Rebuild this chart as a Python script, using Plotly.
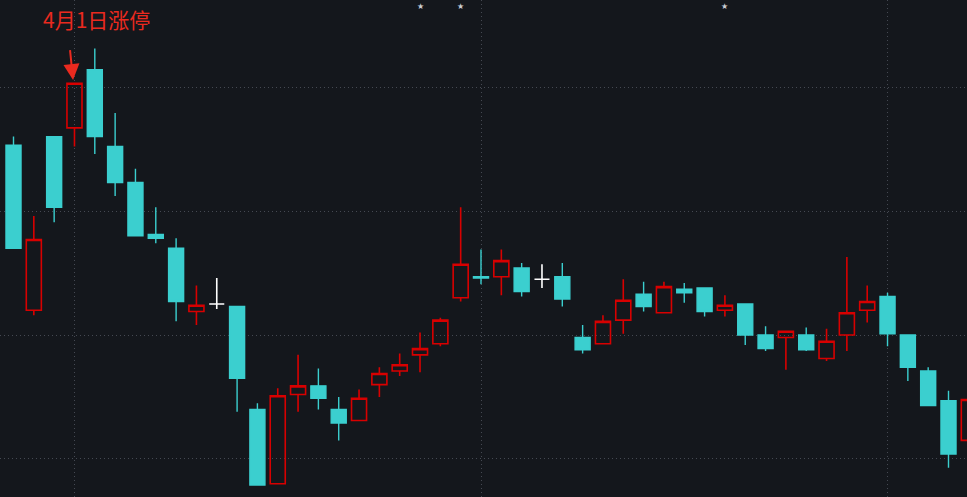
import plotly.graph_objects as go

# Daily candles (index = trading day), prices
days = list(range(48))
opens = [10.53, 9.20, 10.60, 10.67, 11.14, 10.52, 10.23, 9.81, 9.70, 9.19,
         9.25, 9.23, 8.40, 7.80, 8.52, 8.59, 8.40, 8.31, 8.60, 8.71,
         8.84, 8.93, 9.30, 9.47, 9.47, 9.54, 9.45, 9.47, 8.98, 8.93,
         9.12, 9.33, 9.18, 9.37, 9.38, 9.20, 9.25, 9.00, 8.98, 9.00,
         8.81, 9.00, 9.20, 9.31, 9.00, 8.71, 8.47, 8.15]
highs = [10.60, 9.96, 10.60, 11.03, 11.31, 10.79, 10.34, 10.03, 9.78, 9.40,
         9.46, 9.23, 8.45, 8.57, 8.84, 8.73, 8.50, 8.56, 8.74, 8.85,
         9.02, 9.14, 10.03, 9.69, 9.69, 9.58, 9.57, 9.58, 9.08, 9.16,
         9.45, 9.43, 9.43, 9.42, 9.38, 9.32, 9.25, 9.07, 9.03, 9.06,
         9.05, 9.63, 9.40, 9.34, 9.00, 8.74, 8.55, 8.48]
lows = [9.70, 9.16, 9.91, 10.52, 10.46, 10.12, 9.80, 9.74, 9.11, 9.08,
        9.21, 8.38, 7.79, 7.80, 8.38, 8.40, 8.15, 8.31, 8.50, 8.67,
        8.70, 8.91, 9.27, 9.41, 9.32, 9.31, 9.38, 9.23, 8.85, 8.93,
        9.01, 9.19, 9.18, 9.26, 9.15, 9.15, 8.92, 8.87, 8.72, 8.87,
        8.79, 8.87, 9.10, 8.91, 8.63, 8.43, 7.93, 8.15]
closes = [9.70, 9.77, 10.03, 11.03, 10.60, 10.23, 9.80, 9.78, 9.27, 9.24,
          9.25, 8.65, 7.79, 8.51, 8.59, 8.49, 8.29, 8.49, 8.69, 8.76,
          8.89, 9.12, 9.57, 9.46, 9.60, 9.35, 9.45, 9.29, 8.88, 9.11,
          9.28, 9.23, 9.39, 9.34, 9.19, 9.24, 9.00, 8.89, 9.03, 8.88,
          8.95, 9.18, 9.27, 9.01, 8.74, 8.43, 8.04, 8.48]

star_days = [20, 22, 35]
grid_prices = [8, 9, 10, 11]
grid_days = [3, 23, 43]
note_text = "4月1日涨停"
note_day = 3

RED = "#d80000"
CYAN = "#3bcfcf"
BG = "#14171c"
GRID = "#454952"
TXT_RED = "#ea2a1f"

# split flat (open == close) candles into a white trace
flat = [i for i in days if opens[i] == closes[i]]
main = [i for i in days if i not in flat]

def pick(arr, idx):
    return [arr[i] for i in idx]

fig = go.Figure()
fig.add_trace(go.Candlestick(
    x=main, open=pick(opens, main), high=pick(highs, main),
    low=pick(lows, main), close=pick(closes, main),
    increasing=dict(line=dict(color=RED, width=1.6), fillcolor="rgba(0,0,0,0)"),
    decreasing=dict(line=dict(color=CYAN, width=1.4), fillcolor=CYAN),
    whiskerwidth=0, showlegend=False, hoverinfo="skip"))
fig.add_trace(go.Candlestick(
    x=flat, open=pick(opens, flat), high=pick(highs, flat),
    low=pick(lows, flat), close=pick(closes, flat),
    increasing=dict(line=dict(color="#ffffff", width=1.6), fillcolor="#ffffff"),
    decreasing=dict(line=dict(color="#ffffff", width=1.6), fillcolor="#ffffff"),
    whiskerwidth=0, showlegend=False, hoverinfo="skip"))

for d in star_days:
    fig.add_annotation(x=d, y=0.988, xref="x", yref="paper", text="★",
                       showarrow=False, yanchor="middle", yshift=-1,
                       font=dict(family="DejaVu Sans", size=8, color="#c9ccd3"))

fig.add_annotation(x=note_day - 0.07, y=11.056, ax=-4, ay=-40,
                   xref="x", yref="y", showarrow=True, arrowhead=2,
                   arrowsize=1.6, arrowwidth=2, arrowcolor=TXT_RED, standoff=0)
fig.add_annotation(x=note_day + 1.09, y=0.962, xref="x", yref="paper",
                   text=note_text, showarrow=False, xanchor="center", yanchor="middle",
                   font=dict(family="Noto Sans CJK SC", size=21, color=TXT_RED))

fig.update_layout(
    width=967, height=497, margin=dict(l=0, r=0, t=0, b=0),
    paper_bgcolor=BG, plot_bgcolor=BG,
    boxgap=0.26, boxgroupgap=0,
    xaxis=dict(range=[-0.664, 46.91], tickvals=grid_days, showticklabels=False,
               showgrid=True, gridcolor=GRID, griddash="1px,3px", gridwidth=1,
               zeroline=False, showline=False, rangeslider=dict(visible=False)),
    yaxis=dict(range=[7.6935, 11.7016], tickvals=grid_prices, showticklabels=False,
               showgrid=True, gridcolor=GRID, griddash="1px,3px", gridwidth=1,
               zeroline=False, showline=False),
)
fig.write_html("out.html", config={"displayModeBar": False})

# remove the browser's default page margin so the chart fills the window
with open("out.html", encoding="utf-8") as f:
    html = f.read()
html = html.replace("<head>", "<head><style>html,body{margin:0;padding:0;overflow:hidden;background:%s}</style>" % BG, 1)
with open("out.html", "w", encoding="utf-8") as f:
    f.write(html)
